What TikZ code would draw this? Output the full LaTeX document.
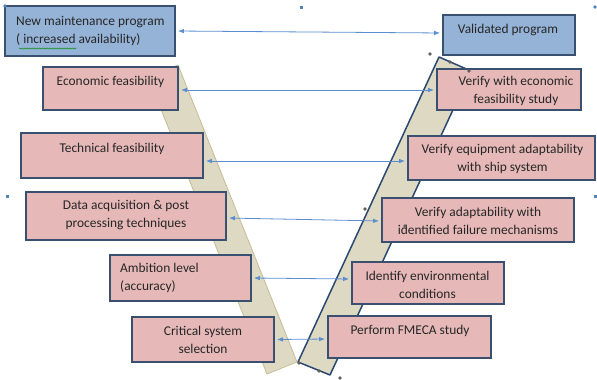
\documentclass[tikz,border=0pt]{standalone}
\usepackage{fontspec}
\setmainfont{Carlito}
\usetikzlibrary{arrows.meta,decorations.pathmorphing}
\definecolor{boxedge}{HTML}{3A5070}
\definecolor{pinkfill}{HTML}{E6B9B8}
\definecolor{bluefill}{HTML}{95B3D7}
\definecolor{barfill}{HTML}{DDD9C3}
\definecolor{baredge}{HTML}{C4BD97}
\definecolor{vedge}{HTML}{2A4870}
\definecolor{linkcol}{HTML}{5B8DCF}
\definecolor{ink}{HTML}{262626}
\definecolor{handle}{HTML}{4F81BD}
\definecolor{knob}{HTML}{606060}
\begin{document}
\begin{tikzpicture}[x=1pt,y=-1pt,
  box/.style={draw=boxedge, line width=1.8pt, inner sep=0pt},
  pinkbox/.style={box, fill=pinkfill},
  bluebox/.style={box, fill=bluefill},
  lbl/.style={align=center, font=\fontsize{13.4}{18}\selectfont, text=ink, inner sep=0pt},
  lbll/.style={lbl, align=left, anchor=west},
  link/.style={draw=linkcol, line width=0.8pt,
    {Latex[length=6pt,width=4.5pt]}-{Latex[length=6pt,width=4.5pt]},
    shorten <=2pt, shorten >=2pt},
  bluemark/.style={fill=handle},
  greymark/.style={fill=knob}
]
\useasboundingbox (0,0) rectangle (597,380);

% the two legs of the V
\draw[fill=barfill, draw=baredge, line width=0.8pt]
  (148,77) -- (178,65) -- (297,362) -- (267,374) -- cycle;
\draw[fill=barfill, draw=vedge, line width=1.5pt, line join=round]
  (439,57) -- (471,71) -- (330,375) -- (298,362) -- cycle;

% boxes
\node[bluebox, minimum width=170pt, minimum height=50pt] (newprog) at (90,31) {};
\node[bluebox, minimum width=132pt, minimum height=40pt] (valid) at (509,35) {};
\node[pinkbox, minimum width=135pt, minimum height=43pt] (econ) at (110.5,88.5) {};
\node[pinkbox, minimum width=144pt, minimum height=41pt] (vecon) at (509,89.5) {};
\node[pinkbox, minimum width=182pt, minimum height=45pt] (tech) at (112,155.5) {};
\node[pinkbox, minimum width=187pt, minimum height=44pt] (vequip) at (501.5,158) {};
\node[pinkbox, minimum width=200pt, minimum height=48pt] (data) at (126,216) {};
\node[pinkbox, minimum width=192pt, minimum height=44pt] (vadapt) at (478,220) {};
\node[pinkbox, minimum width=141pt, minimum height=46pt] (ambition) at (180.5,278) {};
\node[pinkbox, minimum width=152pt, minimum height=42pt] (envir) at (428,283) {};
\node[pinkbox, minimum width=142pt, minimum height=45pt] (critical) at (203,339.5) {};
\node[pinkbox, minimum width=163pt, minimum height=42pt] (fmeca) at (409.5,337) {};

% box texts
\node[lbll] (newprogtxt) at (16,31) {New maintenance program\\( increased availability)};
\node[lbl] (validtxt) at (508,30) {Validated program};
\node[lbl] (econtxt) at (110.5,82) {Economic feasibility};
\node[lbl] (vecontxt) at (516,91) {Verify with economic\\feasibility study};
\node[lbl] (techtxt) at (112,149) {Technical feasibility};
\node[lbl] (vequiptxt) at (502.5,158.5) {Verify equipment adaptability\\with ship system};
\node[lbl] (datatxt) at (126,215) {Data acquisition \& post\\processing techniques};
\node[lbl] (vadapttxt) at (478,220.5) {Verify adaptability with\\identified failure mechanisms};
\node[lbll] (ambitiontxt) at (120,277.5) {Ambition level\\(accuracy)};
\node[lbl] (envirtxt) at (427.5,285) {Identify environmental\\conditions};
\node[lbl] (criticaltxt) at (203,339.5) {Critical system\\selection};
\node[lbl] (fmecatxt) at (410,331) {Perform FMECA study};

% spell-check squiggle under "increased"
\draw[green!55!black, line width=0.5pt, decorate,
  decoration={snake, amplitude=0.5pt, segment length=2.5pt}] (19,48.5) -- (76,48.5);

% links between the two legs
\draw[link] (newprog.east) -- ([yshift=2pt]valid.west);
\draw[link] ([yshift=-1.5pt]econ.east) -- ([yshift=-0.5pt]vecon.west);
\draw[link] ([yshift=-5.5pt]tech.east) -- ([yshift=-3pt]vequip.west);
\draw[link] ([yshift=-2pt]data.east) -- ([yshift=-1pt]vadapt.west);
\draw[link] (ambition.east) -- ([yshift=4pt]envir.west);
\draw[link] (critical.east) -- ([yshift=-2pt]fmeca.west);

% selection handles
\fill[bluemark] (5,6) circle (1.8);
\fill[bluemark] (299.5,5.5) rectangle ++(3,3);
\fill[bluemark] (595,7) circle (1.8);
\fill[bluemark] (5.5,194.5) rectangle ++(3,3);
\fill[bluemark] (593.5,194.5) rectangle ++(3,3);
\foreach \p in {(430,54),(450,62),(469,71),(365,209),(405,226),(299,363),(319,371),(340,378)}
  \fill[greymark] \p circle (1.8);
\end{tikzpicture}
\end{document}
